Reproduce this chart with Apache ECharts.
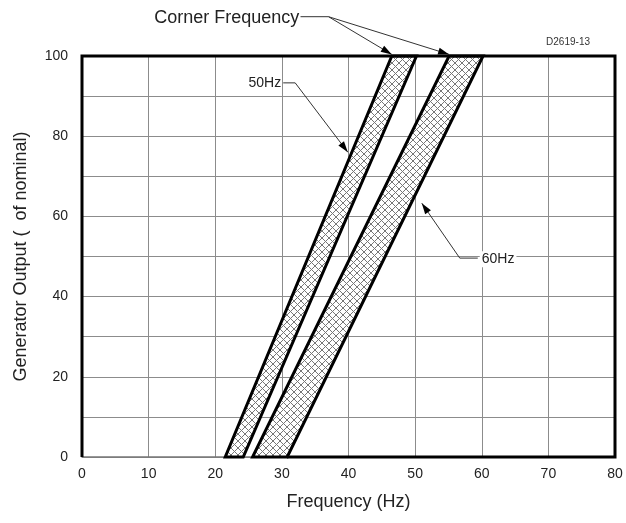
<!DOCTYPE html>
<html style="height: 100%">
<head>
<meta charset="utf-8">
<title>Corner Frequency</title>
<script src="https://cdn.jsdelivr.net/npm/echarts@6/dist/echarts.min.js"></script>
</head>
<body style="height: 100%; margin: 0; background: #fff">
<div id="container" style="width: 626px; height: 523px"></div>
<script type="text/javascript">
// bands: frequency (Hz) of the edges at 0% and 100% output
var bandNames = ['50Hz', '60Hz'];
var bandBottomLeft = [21.5, 25.6];
var bandBottomRight = [24.2, 30.8];
var bandTopLeft = [46.5, 55.1];
var bandTopRight = [50.2, 60.2];

// heavy frame of the plot (bottom edge only right of the 60Hz band)
var framePath = [[30.8, 0], [80, 0], [80, 100], [0, 100], [0, 0]];

// annotations, in data units (Hz, % output)
var annoText = ['Corner Frequency', '50Hz', '60Hz'];
var annoTextAt = [[32.6, 109.5], [29.9, 93.3], [59.7, 49.3]];
var annoAlign = ['right', 'right', 'left'];
var annoLeader = [[[32.8, 109.8], [37.0, 109.8]], [[30.2, 93.3], [32.0, 93.3]], [[59.4, 49.6], [56.7, 49.6]]];
var annoTips = [[[46.5, 100.4], [55.1, 100.4]], [[39.9, 76.0]], [[51.0, 63.3]]];

var FONT = '"Liberation Sans", Arial, sans-serif';

var dom = document.getElementById('container');
var myChart = echarts.init(dom);

// cross hatch
var hatch = document.createElement('canvas');
hatch.width = 7;
hatch.height = 7;
var hctx = hatch.getContext('2d');
hctx.fillStyle = '#fff';
hctx.fillRect(0, 0, 7, 7);
hctx.strokeStyle = '#777';
hctx.lineWidth = 1;
hctx.beginPath();
hctx.moveTo(0, 0); hctx.lineTo(7, 7);
hctx.moveTo(7, 0); hctx.lineTo(0, 7);
hctx.stroke();

function arrowHead(tip, from) {
    var dx = tip[0] - from[0], dy = tip[1] - from[1];
    var len = Math.sqrt(dx * dx + dy * dy);
    var ux = dx / len, uy = dy / len;
    var bx = tip[0] - ux * 11, by = tip[1] - uy * 11;
    return [tip, [bx - uy * 3.5, by + ux * 3.5], [bx + uy * 3.5, by - ux * 3.5]];
}

var option = {
    backgroundColor: '#fff',
    animation: false,
    grid: {left: 82, right: 11, top: 56, bottom: 66},
    xAxis: {
        type: 'value', min: 0, max: 80, interval: 10,
        name: 'Frequency (Hz)', nameLocation: 'middle', nameGap: 36,
        nameTextStyle: {fontFamily: FONT, fontSize: 18, color: '#222'},
        axisLine: {show: true, lineStyle: {color: '#777', width: 1.5}},
        axisTick: {show: false},
        axisLabel: {fontFamily: FONT, fontSize: 14, color: '#222', margin: 10},
        splitLine: {show: true, lineStyle: {color: '#8c8c8c', width: 1}}
    },
    yAxis: {
        type: 'value', min: 0, max: 100, interval: 10,
        name: 'Generator Output (  of nominal)', nameLocation: 'middle', nameGap: 52,
        nameTextStyle: {fontFamily: FONT, fontSize: 18, color: '#222'},
        axisLine: {show: false},
        axisTick: {show: false},
        axisLabel: {
            fontFamily: FONT, fontSize: 14, color: '#222', margin: 14,
            formatter: function (v) { return v % 20 === 0 ? v : ''; }
        },
        splitLine: {show: true, lineStyle: {color: '#8c8c8c', width: 1}}
    },
    graphic: [{
        type: 'text', right: 36, top: 37,
        style: {text: 'D2619-13', fontFamily: FONT, fontSize: 10, fill: '#333'}
    }],
    series: [
        {
            type: 'custom',
            name: 'bands',
            clip: false,
            z: 3,
            data: bandNames.map(function (n, i) { return [i]; }),
            renderItem: function (params, api) {
                var i = params.dataIndex;
                var pts = [
                    api.coord([bandBottomLeft[i], 0]),
                    api.coord([bandBottomRight[i], 0]),
                    api.coord([bandTopRight[i], 100]),
                    api.coord([bandTopLeft[i], 100])
                ];
                return {
                    type: 'polygon',
                    shape: {points: pts},
                    style: {
                        fill: {image: hatch, repeat: 'repeat'},
                        stroke: '#000', lineWidth: 3, lineJoin: 'miter'
                    }
                };
            }
        },
        {
            type: 'line',
            name: 'frame',
            clip: false,
            z: 4,
            data: framePath,
            symbol: 'none',
            lineStyle: {color: '#000', width: 3, join: 'miter'}
        },
        {
            type: 'custom',
            name: 'notes',
            clip: false,
            z: 5,
            data: annoText.map(function (t, i) { return [i]; }),
            renderItem: function (params, api) {
                var i = params.dataIndex;
                var children = [];
                var leader = annoLeader[i].map(function (p) { return api.coord(p); });
                var kink = leader[leader.length - 1];
                var at = api.coord(annoTextAt[i]);
                children.push({
                    type: 'text',
                    x: at[0], y: at[1],
                    style: {
                        text: annoText[i], fontFamily: FONT,
                        fontSize: i === 0 ? 18 : 14, fill: '#222',
                        align: annoAlign[i], verticalAlign: 'middle',
                        backgroundColor: i === 2 ? '#fff' : null,
                        padding: i === 2 ? [1, 2, 1, 2] : 0
                    }
                });
                children.push({
                    type: 'polyline',
                    shape: {points: leader},
                    style: {stroke: '#333', lineWidth: 1, fill: null}
                });
                annoTips[i].forEach(function (t) {
                    var tip = api.coord(t);
                    children.push({
                        type: 'line',
                        shape: {x1: kink[0], y1: kink[1], x2: tip[0], y2: tip[1]},
                        style: {stroke: '#333', lineWidth: 1}
                    });
                    children.push({
                        type: 'polygon',
                        shape: {points: arrowHead(tip, kink)},
                        style: {fill: '#000'}
                    });
                });
                return {type: 'group', children: children};
            }
        }
    ]
};

myChart.setOption(option);
</script>
</body>
</html>
